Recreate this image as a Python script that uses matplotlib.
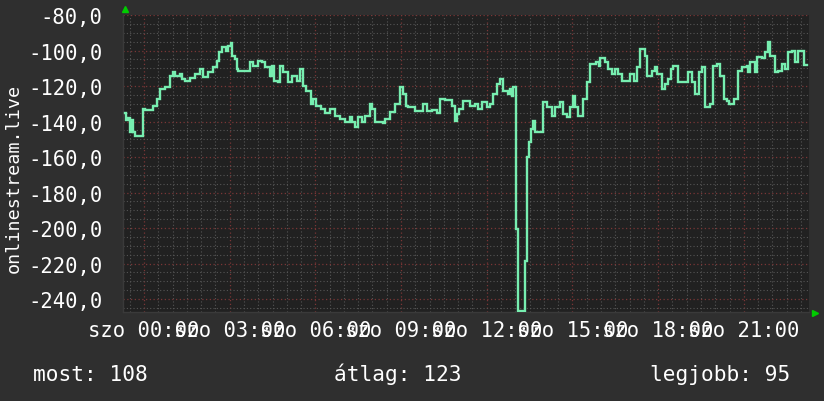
import matplotlib
matplotlib.use("Agg")
import matplotlib.pyplot as plt
from matplotlib.ticker import MultipleLocator, FixedLocator, FuncFormatter

# ---- data (minutes from Saturday 00:00, value) ----
minutes = [-40, -38, -33, -29, -26, -23, -19, -2, 2, 18, 27, 34, 44, 55, 61, 65, 76, 80, 86, 97,
           107, 118, 124, 134, 145, 153, 158, 164, 172, 176, 182, 185, 191, 195, 197, 223, 229, 239, 248, 254,
           265, 269, 273, 281, 286, 292, 302, 311, 321, 328, 334, 340, 351, 355, 361, 372, 380, 391, 401, 412,
           422, 433, 437, 443, 449, 458, 464, 475, 479, 485, 502, 506, 517, 527, 538, 544, 550, 554, 569, 586,
           594, 605, 615, 622, 632, 647, 653, 657, 662, 670, 685, 695, 701, 710, 720, 727, 733, 741, 748, 754,
           764, 769, 773, 775, 781, 785, 800, 804, 808, 812, 817, 821, 838, 846, 857, 863, 874, 880, 888, 895, 901,
           905, 911, 922, 930, 937, 949, 956, 958, 968, 974, 983, 989, 995, 1004, 1021, 1029, 1035, 1042, 1052, 1056,
           1067, 1073, 1077, 1088, 1094, 1100, 1107, 1111, 1121, 1132, 1142, 1151, 1157, 1165, 1172, 1178, 1189, 1195, 1203, 1210,
           1218, 1224, 1229, 1239, 1247, 1256, 1266, 1268, 1273, 1283, 1287, 1298, 1304, 1310, 1316, 1325, 1331, 1340, 1346, 1352,
           1361, 1367, 1373, 1382, 1386, 1392]
values = [-135.0, -139.0, -138.0, -146.0, -139.0, -146.0, -148.0, -133.0, -133.5, -131.3, -127.3, -121.7, -120.6, -114.4, -112.1, -114.4, -113.2, -116.1, -117.0, -115.5,
          -113.2, -110.4, -115.0, -112.1, -109.3, -105.9, -100.8, -98.0, -100.3, -97.5, -95.8, -103.1, -105.0, -110.4, -111.5, -106.5, -108.7, -105.9, -106.5, -109.3,
          -114.4, -108.7, -117.2, -118.0, -108.7, -112.1, -117.7, -114.4, -117.0, -110.4, -120.0, -122.8, -130.1, -127.3, -131.3, -133.0, -135.0, -133.0, -136.9, -138.6,
          -140.3, -137.5, -140.3, -143.1, -137.5, -140.3, -136.9, -130.1, -133.0, -140.3, -141.0, -138.6, -134.6, -130.1, -120.6, -124.5, -131.3, -131.8, -134.1, -130.1,
          -134.1, -133.5, -135.0, -127.3, -128.0, -131.3, -139.7, -135.5, -133.0, -128.4, -131.3, -130.0, -133.0, -129.0, -132.0, -130.1, -124.5, -118.9, -116.1, -122.8,
          -124.5, -121.7, -125.6, -120.6, -200.6, -246.5, -218.6, -160.0, -151.5, -144.2, -139.7, -145.9, -129.0, -131.8, -136.9, -131.8, -129.0, -135.8, -137.5, -132.0, -125.6,
          -131.8, -136.9, -127.3, -117.7, -107.6, -106.5, -109.0, -104.2, -106.5, -110.4, -113.2, -110.4, -113.2, -117.2, -113.2, -117.2, -109.3, -99.2, -103.0, -114.4,
          -111.5, -109.3, -113.2, -121.7, -119.0, -116.1, -110.4, -108.7, -117.7, -117.7, -112.1, -117.7, -124.5, -112.1, -109.3, -131.8, -130.0, -108.7, -107.6, -114.4,
          -127.3, -128.4, -130.1, -127.3, -111.5, -109.3, -108.7, -112.1, -106.5, -112.1, -103.7, -104.2, -100.8, -95.2, -103.1, -112.1, -111.5, -107.6, -110.4, -100.8,
          -100.3, -106.5, -100.3, -100.3, -108.0, -108.0]

y_ticks = [-240, -220, -200, -180, -160, -140, -120, -100, -80]
x_tick_minutes = [0, 180, 360, 540, 720, 900, 1080, 1260]
x_tick_labels = ["szo 00:00", "szo 03:00", "szo 06:00", "szo 09:00",
                 "szo 12:00", "szo 15:00", "szo 18:00", "szo 21:00"]
y_label = "onlinestream.live"
legend_texts = ["most: 108", "átlag: 123", "legjobb: 95"]

# ---- style ----
OUTER = "#2f2f2f"
INNER = "#212121"
MINOR = "#555555"
MAJOR = "#7a3636"
LINE = "#77eeb0"
TXT = "#ffffff"
FONT = "DejaVu Sans Mono"

fig = plt.figure(figsize=(8.24, 4.02), dpi=100, facecolor=OUTER)
ax = fig.add_axes([123.5 / 824, 1 - 313 / 402, (809 - 123.5) / 824, (313 - 16) / 402])
ax.set_facecolor(INNER)

ax.set_xlim(-43, 1397)
ax.set_ylim(-247.3, -80)

# grid
ax.yaxis.set_major_locator(FixedLocator(y_ticks))
ax.yaxis.set_minor_locator(MultipleLocator(5))
ax.xaxis.set_major_locator(FixedLocator(x_tick_minutes))
ax.xaxis.set_minor_locator(MultipleLocator(30))
ax.grid(which="minor", color=MINOR, linestyle=(0, (1, 2)), linewidth=0.8)
ax.grid(which="major", color=MAJOR, linestyle=(0, (1, 2)), linewidth=0.9)
ax.set_axisbelow(True)

ax.plot(minutes, values, drawstyle="steps-post", color=LINE, linewidth=1.7,
        solid_joinstyle="miter", zorder=3)

ax.yaxis.set_major_formatter(FuncFormatter(lambda v, p: f"{v:.1f}".replace(".", ",")))
ax.set_xticklabels(x_tick_labels)
ax.tick_params(axis="both", which="both", length=0)
ax.tick_params(axis="y", pad=15, labelsize=14.8, labelcolor=TXT)
ax.tick_params(axis="x", pad=6, labelsize=14.8, labelcolor=TXT)
for lab in ax.get_xticklabels() + ax.get_yticklabels():
    lab.set_family(FONT)

for s in ["top", "right"]:
    ax.spines[s].set_visible(False)
for s in ["left", "bottom"]:
    ax.spines[s].set_color("#3a3a3a")
    ax.spines[s].set_linewidth(1)

# arrows
ax.plot([0.002], [1.02], marker="^", color="#00cc00", markersize=5, transform=ax.transAxes, clip_on=False)
ax.plot([1.009], [-0.003], marker=">", color="#00cc00", markersize=5, transform=ax.transAxes, clip_on=False)

fig.text(14 / 824, 1 - 178 / 402, y_label, rotation=90, ha="center", va="center",
         color=TXT, fontsize=13.2, family=FONT)

base = 1 - 381 / 402
fig.text(33 / 824, base, legend_texts[0], ha="left", va="baseline", color=TXT, fontsize=15.2, family=FONT)
fig.text(398 / 824, base, legend_texts[1], ha="center", va="baseline", color=TXT, fontsize=15.2, family=FONT)
fig.text(790 / 824, base, legend_texts[2], ha="right", va="baseline", color=TXT, fontsize=15.2, family=FONT)

fig.savefig("out.png", dpi=100, facecolor=OUTER)
